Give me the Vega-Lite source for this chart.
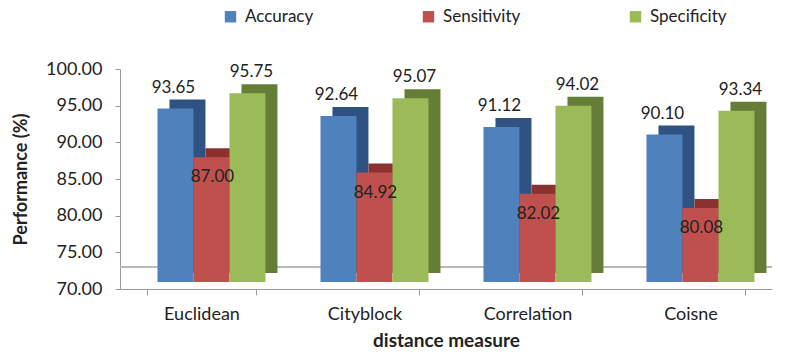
{
  "$schema": "https://vega.github.io/schema/vega-lite/v6.json",
  "width": 652,
  "height": 220,
  "autosize": {"type": "none"},
  "padding": {"left": 120, "top": 69, "right": 22, "bottom": 67},
  "background": "white",
  "config": {
    "font": "Lato",
    "view": {"stroke": null},
    "axis": {"domainColor": "#9a9a9a", "tickColor": "#9a9a9a", "grid": false, "labelColor": "#222222", "titleColor": "#222222"}
  },
  "data": {
    "values": [
      {"measure": "Euclidean", "series": "Accuracy", "value": 93.65},
      {"measure": "Euclidean", "series": "Sensitivity", "value": 87.00},
      {"measure": "Euclidean", "series": "Specificity", "value": 95.75},
      {"measure": "Cityblock", "series": "Accuracy", "value": 92.64},
      {"measure": "Cityblock", "series": "Sensitivity", "value": 84.92},
      {"measure": "Cityblock", "series": "Specificity", "value": 95.07},
      {"measure": "Correlation", "series": "Accuracy", "value": 91.12},
      {"measure": "Correlation", "series": "Sensitivity", "value": 82.02},
      {"measure": "Correlation", "series": "Specificity", "value": 94.02},
      {"measure": "Coisne", "series": "Accuracy", "value": 90.10},
      {"measure": "Coisne", "series": "Sensitivity", "value": 80.08},
      {"measure": "Coisne", "series": "Specificity", "value": 93.34}
    ]
  },
  "encoding": {
    "x": {
      "field": "measure",
      "type": "nominal",
      "sort": ["Euclidean", "Cityblock", "Correlation", "Coisne"],
      "scale": {"paddingInner": 0.337, "paddingOuter": 0.1685},
      "axis": {
        "title": "distance measure",
        "titleFontSize": 19,
        "titleFontWeight": "bold",
        "titlePadding": 8,
        "labelFontSize": 18,
        "labelAngle": 0,
        "labelPadding": 10,
        "tickBand": "extent",
        "tickSize": 6
      }
    },
    "y": {
      "field": "value",
      "type": "quantitative",
      "scale": {"domain": [70, 100], "nice": false, "zero": false},
      "axis": {
        "title": "Performance (%)",
        "titleFontSize": 18,
        "titleFontWeight": "bold",
        "titlePadding": 15,
        "labelFontSize": 18,
        "labelPadding": 13,
        "tickSize": 5,
        "values": [70, 75, 80, 85, 90, 95, 100],
        "format": ".2f"
      }
    }
  },
  "layer": [
    {
      "mark": {"type": "rule", "color": "#b8b8b8"},
      "encoding": {"x": null, "y": {"datum": 73, "type": "quantitative"}}
    },
    {
      "mark": {"type": "bar", "yOffset": -16, "y2Offset": -16},
      "encoding": {
        "xOffset": {"field": "series", "type": "nominal", "sort": ["Accuracy", "Sensitivity", "Specificity"], "scale": {"range": [22, 130], "paddingInner": 0, "paddingOuter": 0}},
        "y2": {"datum": 70},
        "color": {
          "field": "series",
          "type": "nominal",
          "scale": {"domain": ["Accuracy", "Sensitivity", "Specificity"], "range": ["#2f5283", "#8b3230", "#657d36"]},
          "legend": null
        }
      }
    },
    {
      "mark": {"type": "bar", "yOffset": -7, "y2Offset": -7},
      "encoding": {
        "xOffset": {"field": "series", "type": "nominal", "sort": ["Accuracy", "Sensitivity", "Specificity"], "scale": {"range": [10, 118], "paddingInner": 0, "paddingOuter": 0}},
        "y2": {"datum": 70},
        "color": {
          "field": "series",
          "type": "nominal",
          "scale": {"domain": ["Accuracy", "Sensitivity", "Specificity"], "range": ["#4f81bd", "#c0504d", "#9bbb59"]},
          "legend": {
            "title": null,
            "orient": "none",
            "direction": "horizontal",
            "legendX": 102,
            "legendY": -61,
            "symbolType": "square",
            "symbolSize": 130,
            "symbolStrokeWidth": 0,
            "labelFontSize": 17,
            "labelColor": "#222222",
            "labelOffset": 6,
            "columnPadding": 106
          }
        }
      }
    },
    {
      "transform": [{"filter": "datum.series !== 'Sensitivity'"}],
      "mark": {"type": "text", "dy": -28, "fontSize": 17, "color": "#222222", "baseline": "middle"},
      "encoding": {
        "xOffset": {"field": "series", "type": "nominal", "scale": {"type": "point", "domain": ["Accuracy", "Sensitivity", "Specificity"], "range": [26, 104], "padding": 0}},
        "text": {"field": "value", "type": "quantitative", "format": ".2f"}
      }
    },
    {
      "transform": [{"filter": "datum.series === 'Sensitivity'"}],
      "mark": {"type": "text", "dy": 13, "fontSize": 17, "color": "#222222", "baseline": "middle"},
      "encoding": {
        "xOffset": {"field": "series", "type": "nominal", "scale": {"type": "point", "domain": ["Accuracy", "Sensitivity", "Specificity"], "range": [26, 104], "padding": 0}},
        "text": {"field": "value", "type": "quantitative", "format": ".2f"}
      }
    }
  ],
  "resolve": {"scale": {"color": "independent", "xOffset": "independent"}}
}
